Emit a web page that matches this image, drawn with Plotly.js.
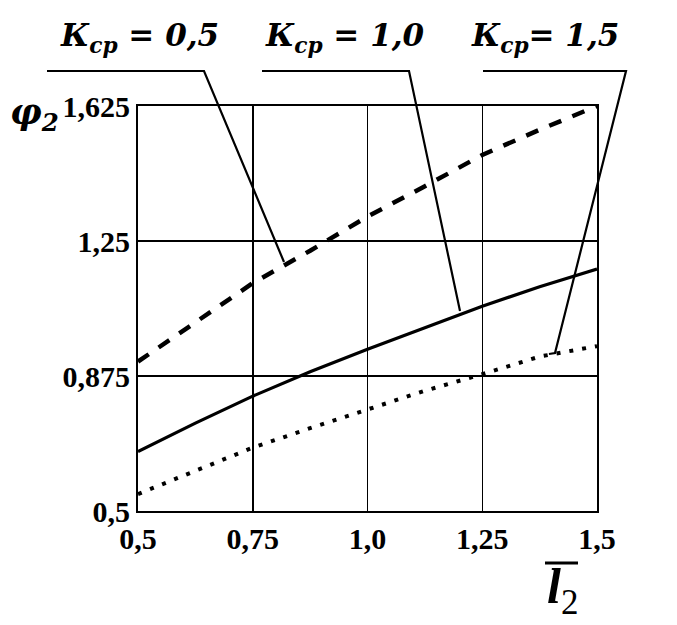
<!DOCTYPE html>
<html>
<head>
<meta charset="utf-8">
<script src="https://cdn.plot.ly/plotly-3.0.1.min.js"></script>
<style>html,body{margin:0;padding:0;background:#fff;}#chart{width:677px;height:625px;}</style>
</head>
<body>
<div id="chart"></div>
<script>
// Data
var lengths = [0.5, 0.625, 0.75, 0.875, 1.0, 1.125, 1.25, 1.375, 1.5];
var phiK05 = [0.915, 1.024, 1.133, 1.223, 1.318, 1.402, 1.489, 1.559, 1.625];
var phiK10 = [0.665, 0.744, 0.819, 0.887, 0.949, 1.010, 1.069, 1.123, 1.172];
var phiK15 = [0.547, 0.611, 0.676, 0.730, 0.783, 0.834, 0.880, 0.929, 0.958];
var xTickVals = [0.5, 0.75, 1.0, 1.25, 1.5];
var xTickText = ['0,5', '0,75', '1,0', '1,25', '1,5'];
var yTickVals = [0.5, 0.875, 1.25, 1.625];
var yTickText = ['0,5', '0,875', '1,25', '1,625'];
var seriesLabels = ['К<sub>ср</sub> = 0,5', 'К<sub>ср</sub> = 1,0', 'К<sub>ср</sub>= 1,5'];

// layout geometry (pixels)
var W = 677, H = 625, L = 138, R = 80, T = 106, B = 114;
var pw = W - L - R, ph = H - T - B;
function px(xp) { return (xp - L) / pw; }
function py(yp) { return (H - B - yp) / ph; }

var serif = "'Liberation Serif', 'Times New Roman', serif";
var wideSerif = "'DejaVu Serif', serif";

var traces = [
  {x: lengths, y: phiK05, mode: 'lines', line: {color: '#000', width: 4.5, dash: '13px,12px'}, hoverinfo: 'none'},
  {x: lengths, y: phiK10, mode: 'lines', line: {color: '#000', width: 3.2}, hoverinfo: 'none'},
  {x: lengths, y: phiK15, mode: 'lines', line: {color: '#000', width: 4, dash: '4px,9px'}, hoverinfo: 'none'}
];

// label / leader positions in pixels
var labelPos = [[58, 37], [263, 37], [469, 37]];
var leaders = [
  [[47, 71], [204, 71], [284, 262]],
  [[262, 71], [409, 71], [460, 311]],
  [[483, 71], [626, 71], [555, 353], [549, 354]]
];

var shapes = [];
leaders.forEach(function (pts) {
  var d = pts.map(function (p, i) { return (i ? 'L' : 'M') + px(p[0]) + ',' + py(p[1]); }).join(' ');
  shapes.push({type: 'path', xref: 'paper', yref: 'paper', path: d, line: {color: '#000', width: 2.2}});
});
// overline of the x-axis title
shapes.push({type: 'line', xref: 'paper', yref: 'paper', x0: px(545), x1: px(578), y0: py(563), y1: py(563), line: {color: '#000', width: 3}});

var annotations = seriesLabels.map(function (t, i) {
  return {xref: 'paper', yref: 'paper', x: px(labelPos[i][0]), y: py(labelPos[i][1]), xanchor: 'left', yanchor: 'middle',
    text: '<b><i>' + t + '</i></b>', showarrow: false, font: {family: wideSerif, size: 31, color: '#000'}};
});
annotations.push({xref: 'paper', yref: 'paper', x: px(8), y: py(114), xanchor: 'left', yanchor: 'middle',
  text: '<b><i>φ<sub>2</sub></i></b>', showarrow: false, font: {family: wideSerif, size: 35, color: '#000'}});
annotations.push({xref: 'paper', yref: 'paper', x: px(545), y: py(590), xanchor: 'left', yanchor: 'middle',
  text: '<b><i>l</i></b><sub>2</sub>', showarrow: false, font: {family: serif, size: 50, color: '#000'}});

var axisCommon = {showline: true, mirror: true, linecolor: '#000', linewidth: 2, showgrid: true, gridcolor: '#000', gridwidth: 1.5,
  zeroline: false, ticks: '', tickfont: {family: serif, size: 30, color: '#000', weight: 'bold'}, fixedrange: true};

var layout = {
  width: W, height: H,
  margin: {l: L, r: R, t: T, b: B, pad: 0},
  paper_bgcolor: '#fff', plot_bgcolor: '#fff',
  showlegend: false,
  xaxis: Object.assign({}, axisCommon, {range: [0.5, 1.5], tickmode: 'array', tickvals: xTickVals, ticktext: xTickText}),
  yaxis: Object.assign({}, axisCommon, {range: [0.5, 1.625], tickmode: 'array', tickvals: yTickVals, ticktext: yTickText}),
  shapes: shapes,
  annotations: annotations
};

Plotly.newPlot('chart', traces, layout, {staticPlot: true, displayModeBar: false});
</script>
</body>
</html>
